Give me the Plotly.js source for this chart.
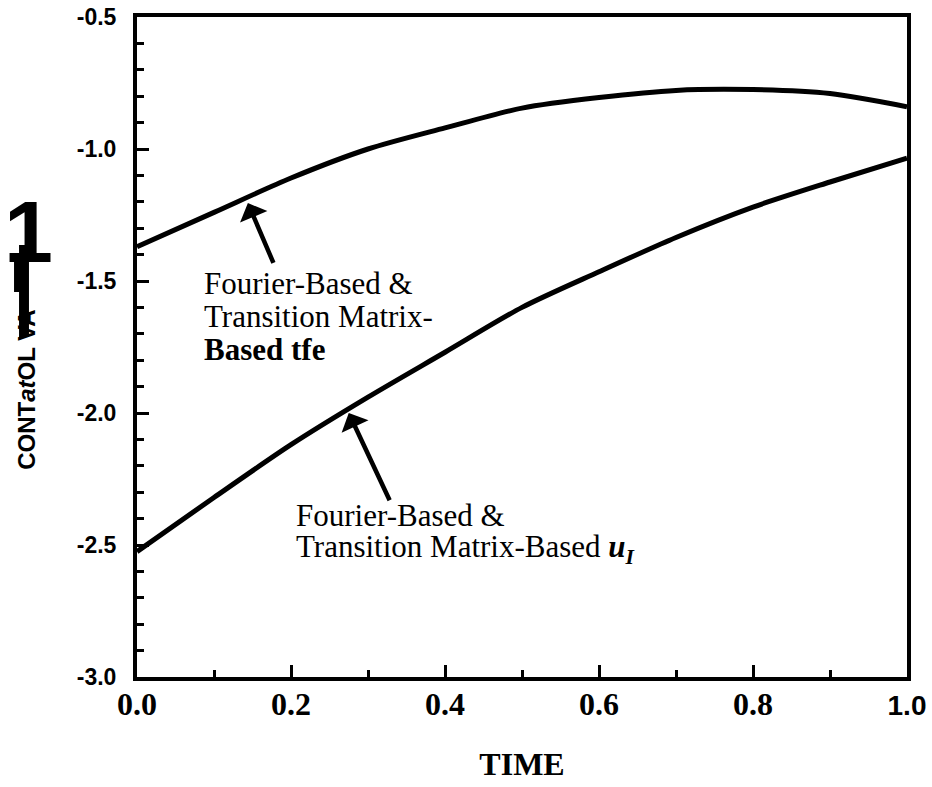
<!DOCTYPE html>
<html>
<head>
<meta charset="utf-8">
<script src="https://cdn.plot.ly/plotly-3.0.1.min.js"></script>
<style>html,body{margin:0;padding:0;background:#fff;}#chart{width:932px;height:787px;}</style>
</head>
<body>
<div id="chart"></div>
<script>
// ---- data ----
const time = [0.0, 0.1, 0.2, 0.3, 0.4, 0.5, 0.6, 0.7, 0.8, 0.9, 1.0];
const uUpper = [-1.37, -1.24, -1.11, -1.00, -0.92, -0.845, -0.805, -0.778, -0.775, -0.79, -0.84];
const uLower = [-2.525, -2.32, -2.12, -1.94, -1.77, -1.60, -1.465, -1.335, -1.22, -1.125, -1.035];

const xTickVals = [0.0, 0.2, 0.4, 0.6, 0.8, 1.0];
const xTickText = ['0.0', '0.2', '0.4', '0.6', '0.8', '<span style="font-family:Liberation Sans, Arial;font-size:28px">1.0</span>'];
const yTickVals = [-3.0, -2.5, -2.0, -1.5, -1.0, -0.5];
const yTickText = ['-3.0', '-2.5', '-2.0', '-1.5', '-1.0', '-0.5'];

const upperLabel = ['Fourier-Based &', 'Transition Matrix-', '<b>Based tfe</b>'];
const lowerLabel = ['Fourier-Based &', 'Transition Matrix-Based <b><i>u<sub>I</sub></i></b>'];
const xTitle = '<b>TIME</b>';
const yTitle = '<b>CONT<i>at</i>OL VA</b>';

const serif = 'Liberation Serif, Times New Roman, serif';
const sans = 'Liberation Sans, Arial, sans-serif';

const traces = [
  {x: time, y: uUpper, mode: 'lines', line: {color: '#000', width: 5, shape: 'spline', smoothing: 0.8}, hoverinfo: 'skip'},
  {x: time, y: uLower, mode: 'lines', line: {color: '#000', width: 5, shape: 'spline', smoothing: 0.8}, hoverinfo: 'skip'}
];

const annotations = [];
const upY = [-1.508, -1.636, -1.761];
upperLabel.forEach((t, i) => annotations.push({
  x: 0.0844, y: upY[i], xref: 'x', yref: 'y', xanchor: 'left', yanchor: 'middle',
  text: t, showarrow: false, font: {family: serif, size: 31, color: '#000'}
}));
const loY = [-2.39, -2.515];
lowerLabel.forEach((t, i) => annotations.push({
  x: 0.2035, y: loY[i], xref: 'x', yref: 'y', xanchor: 'left', yanchor: 'middle',
  text: t, showarrow: false, font: {family: serif, size: 31, color: '#000'}
}));
// arrows
annotations.push({x: 0.144, y: -1.205, ax: 0.178, ay: -1.437, xref: 'x', yref: 'y', axref: 'x', ayref: 'y',
  text: '', showarrow: true, arrowhead: 1, arrowsize: 1.1, arrowwidth: 4.5, arrowcolor: '#000'});
annotations.push({x: 0.275, y: -2.0, ax: 0.329, ay: -2.336, xref: 'x', yref: 'y', axref: 'x', ayref: 'y',
  text: '', showarrow: true, arrowhead: 1, arrowsize: 1.1, arrowwidth: 4.5, arrowcolor: '#000'});
// y-axis title pieces
annotations.push({x: -0.143, y: 0.435, xref: 'paper', yref: 'paper', xanchor: 'center', yanchor: 'middle',
  text: yTitle, textangle: -90, showarrow: false, font: {family: sans, size: 24, color: '#000'}});
annotations.push({x: -0.1415, y: 0.675, xref: 'paper', yref: 'paper', xanchor: 'center', yanchor: 'middle',
  text: '<b>1</b>', showarrow: false, font: {family: sans, size: 88, color: '#000'}});

const layout = {
  width: 932, height: 787,
  margin: {l: 137, r: 25, t: 17, b: 110},
  paper_bgcolor: '#fff', plot_bgcolor: '#fff',
  showlegend: false,
  xaxis: {
    range: [0, 1], tickvals: xTickVals, ticktext: xTickText,
    ticks: 'inside', ticklen: 12, tickwidth: 3, tickcolor: '#000',
    minor: {ticks: 'inside', ticklen: 7, tickwidth: 3, tickcolor: '#000', dtick: 0.1},
    showline: true, linewidth: 4, linecolor: '#000', mirror: true,
    showgrid: false, zeroline: false, ticklabelstandoff: -4,
    tickfont: {family: serif, size: 32, color: '#000', weight: 'bold'},
    title: {text: xTitle, font: {family: serif, size: 32, color: '#000'}, standoff: 32}
  },
  yaxis: {
    range: [-3.0, -0.5], tickvals: yTickVals, ticktext: yTickText,
    ticks: 'inside', ticklen: 12, tickwidth: 3, tickcolor: '#000',
    minor: {ticks: 'inside', ticklen: 7, tickwidth: 3, tickcolor: '#000', dtick: 0.1},
    showline: true, linewidth: 4, linecolor: '#000', mirror: true,
    showgrid: false, zeroline: false, ticklabelstandoff: 12,
    tickfont: {family: sans, size: 23, color: '#000', weight: 'bold'}
  },
  shapes: [
    {type: 'rect', xref: 'paper', yref: 'paper', x0: -0.1532, x1: -0.1403, y0: 0.515, y1: 0.6545, fillcolor: '#000', line: {width: 0}},
    {type: 'rect', xref: 'paper', yref: 'paper', x0: -0.1597, x1: -0.1519, y0: 0.5833, y1: 0.6288, fillcolor: '#000', line: {width: 0}}
  ],
  annotations: annotations
};

Plotly.newPlot('chart', traces, layout, {displayModeBar: false, staticPlot: true});
</script>
</body>
</html>
